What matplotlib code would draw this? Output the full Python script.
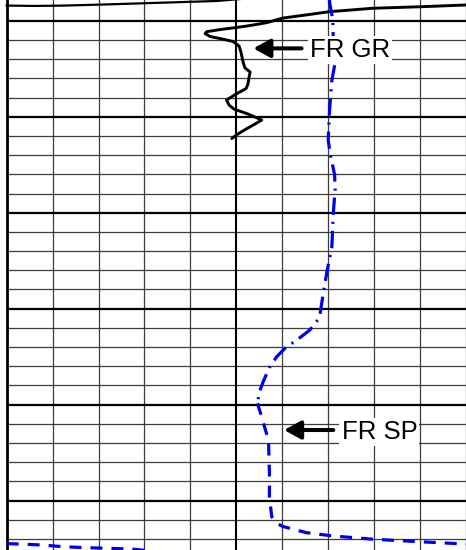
import matplotlib
matplotlib.use("Agg")
import matplotlib.pyplot as plt

plt.rcParams['font.family'] = ['Liberation Sans', 'DejaVu Sans']
plt.rcParams['lines.scale_dashes'] = False

# grid: 10 divisions across, depth in grid units (thick line every 5)
n_div = 10
depth_top, depth_bot = 3.92, 32.57

# GR scale 0-150 API, SP scale -80..20 mV
gr_min, gr_max = 0.0, 150.0
sp_min, sp_max = -80.0, 20.0

# GR curve (black, solid)
gr_depth = [4.15, 4.18, 4.27, 4.35, 4.53, 4.70, 4.86, 5.10, 5.25, 5.35, 5.46, 5.57, 5.67,
            5.82, 5.95, 6.08, 6.32, 6.63, 7.15, 7.46, 7.67, 7.98, 8.30, 8.53, 8.82,
            9.13, 9.39, 9.60, 9.86, 10.17, 10.38, 10.64, 10.90, 11.14]
gr_api = [152.0, 150.0, 135.3, 119.6, 105.3, 97.7, 90.2, 84.9, 79.5, 75.1, 69.7, 65.3, 64.8,
          66.4, 70.3, 73.9, 75.9, 76.5, 77.2, 77.8, 79.5, 79.1, 78.8, 78.2, 74.9,
          71.8, 72.6, 74.2, 78.8, 83.3, 81.1, 78.2, 75.5, 73.5]

# piece of GR leaving the top of the track
gr_top_depth = [4.21, 4.23, 4.21, 4.16, 4.08, 3.97, 3.87]
gr_top_api = [0.0, 9.2, 19.0, 30.5, 46.8, 68.7, 76.2]

# SP curve (blue), upper part dash-dot, lower part dashed
sp_up_depth = [3.82, 4.18, 4.96, 6.01, 7.20, 8.09, 9.65, 11.21, 11.89, 13.04, 13.82,
               15.02, 16.77, 17.73, 18.66, 19.70, 20.47, 21.11, 21.50, 22.06, 22.50,
               23.02, 23.77, 24.34, 24.93]
sp_up_mv = [-9.8, -9.6, -9.0, -8.9, -8.5, -9.2, -9.7, -10.0, -9.6, -8.6, -8.5,
            -8.9, -9.2, -10.0, -10.7, -11.4, -11.9, -14.0, -16.1, -19.4, -21.2,
            -22.7, -24.1, -25.0, -25.4]
sp_lo_depth = [24.93, 25.62, 26.21, 26.84, 28.57, 29.79, 30.83, 31.16, 31.35, 31.67,
               31.84, 32.01, 32.14, 32.26, 32.27]
sp_lo_mv = [-25.4, -24.5, -23.8, -23.0, -22.8, -22.8, -22.3, -21.4, -19.8, -14.7,
            -8.9, -0.2, 10.0, 20.0, 21.0]
# SP wrapped back in from the left edge
sp_wrap_depth = [32.24, 32.26, 32.31, 32.40, 32.45, 32.48, 32.52, 32.62]
sp_wrap_mv = [-80.0, -77.1, -72.3, -67.7, -62.5, -58.2, -52.7, -48.8]

labels = ['FR GR', 'FR SP']
label_pos = [(6.60, 6.91), (7.29, 26.80)]      # text left / baseline (grid units)
arrow_tip = [(5.37, 6.44), (6.04, 26.32)]
arrow_tail = [(6.42, 6.44), (7.11, 26.32)]

x_left = -0.146

fig = plt.figure(figsize=(4.66, 5.5), dpi=100)
ax = fig.add_axes([0, 0, 1, 1])
ax.set_xlim(x_left, n_div)
ax.set_ylim(depth_bot, depth_top)
ax.axis('off')

# grid
for i in range(n_div + 1):
    if i == 0:
        ax.axvline(i, color='black', lw=2.0, zorder=3)
    elif i == 5:
        ax.axvline(i, color='black', lw=1.5, zorder=3)
    else:
        ax.axvline(i, color='#3c3c3c', lw=0.9, zorder=2)
for d in range(5, int(depth_bot) + 1):
    if d % 5 == 0:
        ax.hlines(d, 0, n_div, color='black', lw=1.6, zorder=3)
    else:
        ax.hlines(d, 0, n_div, color='#3c3c3c', lw=0.9, zorder=2)

ax_gr = ax.twiny()
ax_gr.set_xlim(gr_min - (gr_max - gr_min) * (-x_left) / n_div, gr_max)
ax_gr.axis('off')
ax_gr.plot(gr_api, gr_depth, color='black', lw=2.1, solid_joinstyle='round',
           solid_capstyle='round')
ax_gr.plot(gr_top_api, gr_top_depth, color='black', lw=1.6)

ax_sp = ax.twiny()
ax_sp.set_xlim(sp_min - (sp_max - sp_min) * (-x_left) / n_div, sp_max)
ax_sp.axis('off')
ax_sp.plot(sp_up_mv, sp_up_depth, color='#0000ee', lw=2.3,
           dashes=(12.5, 5, 1.5, 5))
ax_sp.plot(sp_lo_mv, sp_lo_depth, color='#0000ee', lw=2.3, dashes=(8.6, 6.5))
ax_sp.plot(sp_wrap_mv, sp_wrap_depth, color='#0000ee', lw=2.3, dashes=(8.6, 6.5))

for lab, pos, tip, tail in zip(labels, label_pos, arrow_tip, arrow_tail):
    ax_sp.annotate('', xy=tip, xytext=tail, xycoords=ax.transData,
                   textcoords=ax.transData,
                   arrowprops=dict(arrowstyle='-|>,head_length=1.0,head_width=0.55',
                                   mutation_scale=10, lw=2.9, color='black',
                                   shrinkA=0, shrinkB=0),
                   zorder=10)
    ax_sp.text(pos[0], pos[1], lab, transform=ax.transData, fontsize=18.5,
               ha='left', va='baseline', color='black', zorder=11,
               bbox=dict(facecolor='white', edgecolor='none', pad=1.5))

fig.savefig('out.png', dpi=100)
